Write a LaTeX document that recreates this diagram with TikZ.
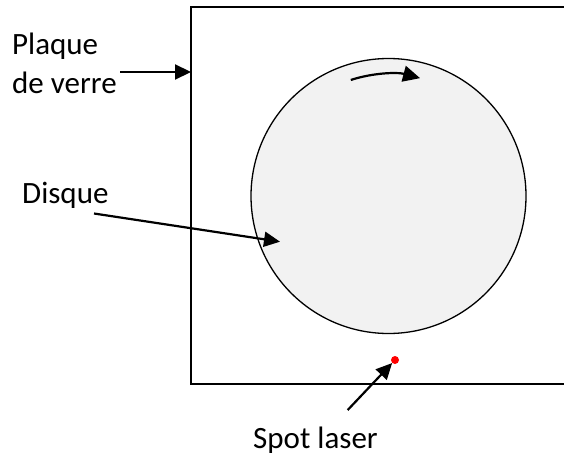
\documentclass[tikz,border=0pt]{standalone}
\usepackage{fontspec}
\setmainfont{Carlito}
\usetikzlibrary{arrows.meta}
\definecolor{diskgray}{HTML}{F2F2F2}
\definecolor{spotred}{HTML}{FF0000}
\begin{document}
\begin{tikzpicture}[x=1pt,y=1pt,
  lbl/.style={inner sep=0pt, font=\fontsize{31}{38}\selectfont},
  pointer/.style={line width=2.2pt, -{Triangle[length=16pt,width=15pt]}},
  frame/.style={line width=1.6pt, line join=miter}]
\useasboundingbox (0,0) rectangle (564,459);
% glass plate (right side cut off)
\draw[frame] (564,452) -- (191,452) -- (191,75) -- (564,75);
% disc
\node[circle, draw, line width=1.3pt, fill=diskgray, minimum size=275pt, inner sep=0pt] (disk) at (388.5,263) {};
% rotation arrow
\coordinate (rotstart) at ([shift={(108:122)}]disk.center);
\draw[line width=2.2pt, -{Triangle[length=17pt,width=16pt]}] (rotstart) arc[start angle=108, end angle=75, radius=122];
% labels
\node[lbl, anchor=base west] (plaque) at (12,404) {Plaque};
\node[lbl, anchor=base west] (verre) at (12,366) {de verre};
\node[lbl, anchor=base west] (disque) at (22,256) {Disque};
\node[lbl, anchor=base west] (spotlbl) at (253,11) {Spot laser};
% spot
\node[circle, fill=spotred, minimum size=8pt, inner sep=0pt] (spot) at (395,99) {};
% pointers
\coordinate (pstart) at (120,387);
\coordinate (ptip) at (191,387);
\draw[pointer] (pstart) -- (ptip);
\coordinate (dstart) at (94,245.5);
\coordinate (dtip) at (280,217.3);
\draw[pointer] (dstart) -- (dtip);
\coordinate (sstart) at (347.7,49);
\draw[pointer] (sstart) -- (spot);
\end{tikzpicture}
\end{document}
